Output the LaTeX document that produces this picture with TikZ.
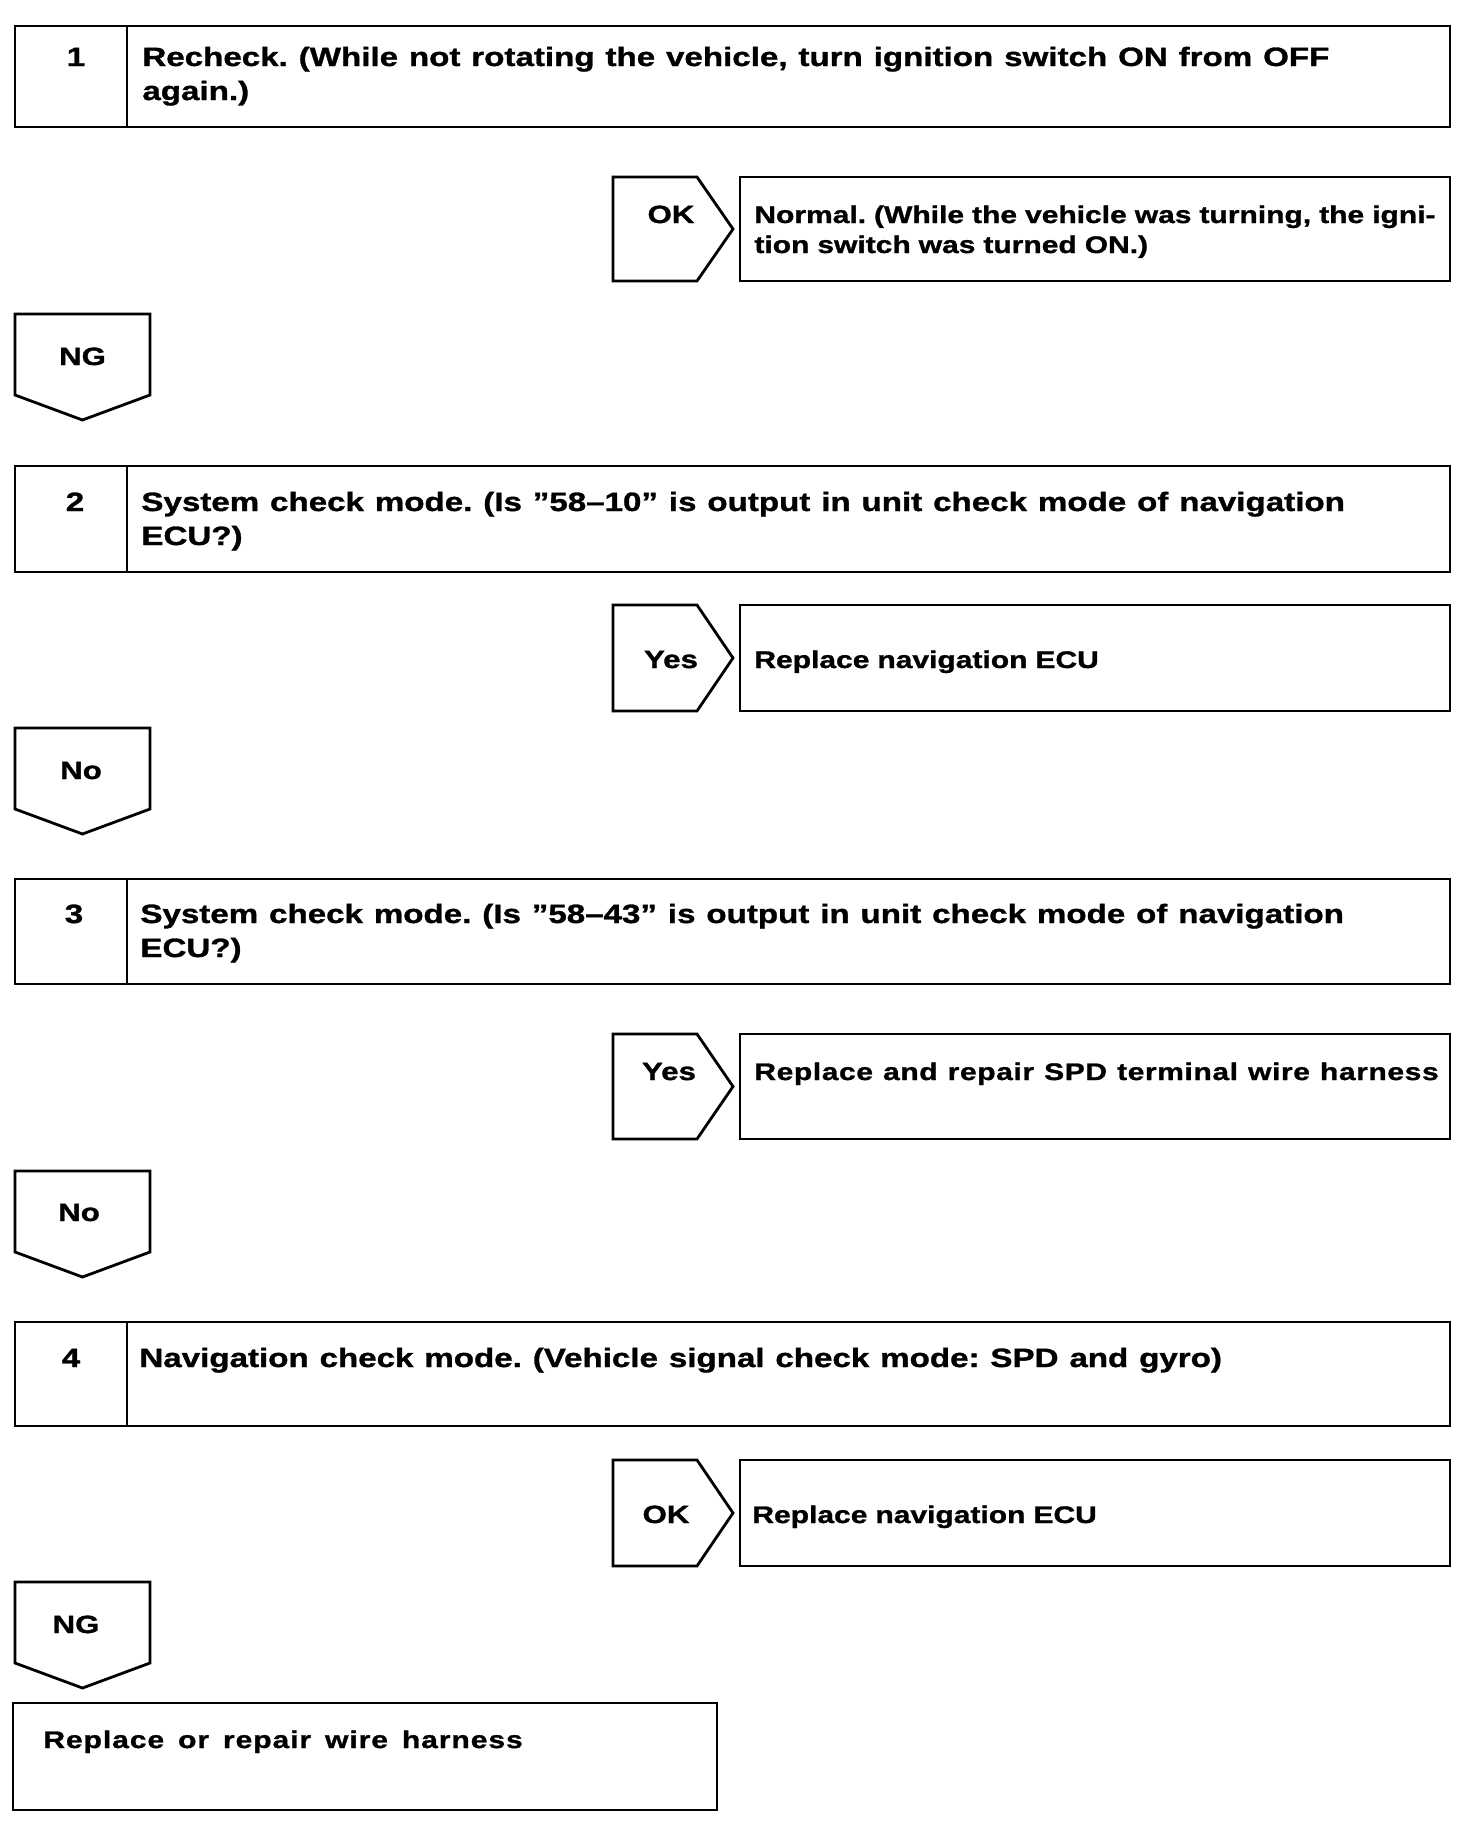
\documentclass[tikz,border=0pt]{standalone}
\usepackage{fontspec}
\setmainfont{Liberation Sans}[FakeStretch=1.25,BoldFeatures={FakeBold=1.2}]
\frenchspacing
\tikzset{
  frame/.style={draw,line width=1.4pt,line join=miter},
  stepno/.style={font=\fontsize{13.25}{17}\selectfont\bfseries,anchor=base,inner sep=0pt},
  steptxt/.style={font=\fontsize{13.25}{17}\selectfont\bfseries,execute at begin node={\spaceskip=0.41em\relax},anchor=base west,align=left,text width=660pt,inner sep=0pt},
  restxt/.style={font=\fontsize{12}{15}\selectfont\bfseries,anchor=base west,align=left,text width=350pt,inner sep=0pt}
}
\begin{document}
\begin{tikzpicture}[x=0.5pt,y=-0.5pt,
 tg/.style={font=\fontsize{12.5}{15}\selectfont\bfseries,anchor=base,inner sep=0pt}]
\useasboundingbox (0,0) rectangle (1472,1838);
% 1
\draw[frame] (15,26) rectangle (1450,127) (127,26)--(127,127);
\node[stepno] (n1) at (76,66) {1};
\node[steptxt] (s1) at (142,66) {Recheck. (While not rotating the vehicle, turn ignition switch ON from OFF\\again.)};
\draw[frame] (613,177)--(697,177)--(733,229)--(697,281)--(613,281)--cycle;
\node[tg] (ok1) at (671,223) {OK};
\draw[frame] (740,177) rectangle (1450,281);
\node[restxt] (r1) at (754,223) {Normal. (While the vehicle was turning, the igni-\\tion switch was turned ON.)};
\draw[frame] (15,314)--(150,314)--(150,395)--(82.5,420)--(15,395)--cycle;
\node[tg] (ng1) at (82.5,365) {NG};
% 2
\draw[frame] (15,466) rectangle (1450,572) (127,466)--(127,572);
\node[stepno] (n2) at (75,511) {2};
\node[steptxt] (s2) at (141,511) {System check mode. (Is ”58--10” is output in unit check mode of navigation\\ECU?)};
\draw[frame] (613,605)--(697,605)--(733,658)--(697,711)--(613,711)--cycle;
\node[tg] (yes2) at (671,668) {Yes};
\draw[frame] (740,605) rectangle (1450,711);
\node[restxt] (r2) at (754,668) {Replace navigation ECU};
\draw[frame] (15,728)--(150,728)--(150,809)--(82.5,834)--(15,809)--cycle;
\node[tg] (no2) at (81,779) {No};
% 3
\draw[frame] (15,879) rectangle (1450,984) (127,879)--(127,984);
\node[stepno] (n3) at (74,923) {3};
\node[steptxt] (s3) at (140,923) {System check mode. (Is ”58--43” is output in unit check mode of navigation\\ECU?)};
\draw[frame] (613,1034)--(697,1034)--(733,1086.5)--(697,1139)--(613,1139)--cycle;
\node[tg] (yes3) at (669,1080) {Yes};
\draw[frame] (740,1034) rectangle (1450,1139);
\node[restxt] (r3) at (754,1080) {\addfontfeature{LetterSpace=2.5}\spaceskip=0.42em Replace and repair SPD terminal wire harness};
\draw[frame] (15,1171)--(150,1171)--(150,1252)--(82.5,1277)--(15,1252)--cycle;
\node[tg] (no3) at (79,1221) {No};
% 4
\draw[frame] (15,1322) rectangle (1450,1426) (127,1322)--(127,1426);
\node[stepno] (n4) at (71,1367) {4};
\node[steptxt] (s4) at (139,1367) {Navigation check mode. (Vehicle signal check mode: SPD and gyro)};
\draw[frame] (613,1460)--(697,1460)--(733,1513)--(697,1566)--(613,1566)--cycle;
\node[tg] (ok4) at (666,1523) {OK};
\draw[frame] (740,1460) rectangle (1450,1566);
\node[restxt] (r4) at (752,1523) {Replace navigation ECU};
\draw[frame] (15,1582)--(150,1582)--(150,1663)--(82.5,1688)--(15,1663)--cycle;
\node[tg] (ng4) at (76,1633) {NG};
% end
\draw[frame] (13,1703) rectangle (717,1810);
\node[restxt] (fin) at (43,1748) {\addfontfeature{LetterSpace=4}\spaceskip=0.58em Replace or repair wire harness};
\end{tikzpicture}
\end{document}
